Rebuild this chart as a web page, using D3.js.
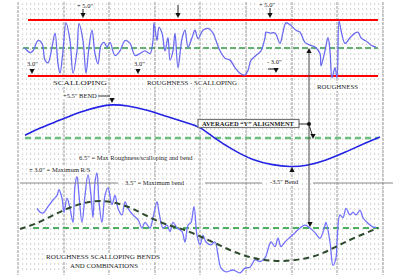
<!DOCTYPE html>
<html>
<head>
<meta charset="utf-8">
<script src="https://d3js.org/d3.v7.min.js"></script>
<style>
body{margin:0;background:#fff;}
svg{display:block;}
.lbl{font-family:"Liberation Serif","Times New Roman",serif;fill:#1a1a1a;}
</style>
</head>
<body>
<script>
(function (){

    //rail profile, top panel: roughness / scalloping (station in ft, offset in inches)
    var topStations = [5,10,13,18,22,25,28,32,35,38,40,43,46,50,53,57,59,63,66,69,72,75,78,81,84,87,90,95,100,105,110,115,120,125,130,133,134,137,139,142,145,148,150,153,155,158,162,165,168,172,175,178,183,188,193,196,200,205,210,215,220,225,228,231,236,241,245,246,250,255,260,263,266,271,276,280,285,290,295,300,301,305,308,310,312,315,317,319,321,325,330,335,338,341,345,348,351,356];
    var topValues = [0.0,-0.5,-0.3,0.8,0.5,-1.3,-1.6,0.1,1.6,-1.7,-2.7,-0.3,2.7,0.8,-2.7,-0.3,2.6,0.8,-2.7,0.1,1.9,-0.6,-1.7,0.3,0.6,0.1,0.6,-0.8,-0.3,0.8,0.5,-0.8,-0.6,-0.3,-0.6,0.8,2.7,0.8,2.2,1.6,-0.3,1.1,-1.3,-0.3,1.6,-2.1,1.0,1.9,0.1,1.1,1.9,1.0,1.9,2.1,1.6,0.8,-0.3,-1.1,-1.3,-2.1,-2.7,-2.9,-2.4,-1.3,-0.8,-0.3,1.1,1.7,1.6,1.6,0.5,1.7,2.7,2.4,1.9,1.7,0.6,0.3,0.1,-0.6,-1.9,-0.3,1.1,-0.3,-3.2,-2.1,-3.2,2.9,1.9,0.5,1.1,1.6,1.7,1.1,0.8,0.6,0.3,0.1];

    //middle panel: averaged "Y" alignment
    var alignStations = [5,20,40,60,80,92,107,127,147,167,180,193,213,233,253,270,286,306,326,346,360];
    var alignValues = [0.3,1.1,1.9,2.8,3.4,3.6,3.5,3.0,2.3,1.6,1.2,0.1,-1.3,-2.4,-2.9,-3.1,-3.0,-2.4,-1.5,-0.5,0.1];

    //bottom panel: combined profile
    var comboStations = [17,20,23,28,33,37,39,42,44,47,50,53,55,57,59,62,65,68,71,73,75,77,79,82,85,88,92,95,98,102,105,108,113,118,122,125,130,133,137,139,143,147,150,153,157,162,165,168,171,174,177,180,183,186,191,195,198,201,206,213,220,225,230,235,240,245,251,255,258,261,265,270,275,280,285,290,295,300,305,306,310,313,316,317,320,323,326,330,333,336,340,343,348,353,356];
    var comboValues = [2.1,1.7,1.6,2.3,3.0,3.5,4.1,3.2,1.7,3.2,2.1,0.6,4.6,5.5,3.5,0.6,3.5,5.7,3.5,1.1,4.9,5.9,2.8,0.6,3.5,4.3,2.5,3.5,2.1,1.4,2.8,2.1,1.4,0.9,0.0,0.6,0.0,1.1,2.8,1.7,0.0,0.3,-0.4,0.6,0.0,-0.4,-1.5,0.3,0.6,2.3,-0.8,-1.8,-0.8,-1.5,-1.8,-1.5,-2.9,-4.3,-4.7,-4.5,-4.8,-4.3,-4.2,-3.4,-3.6,-3.2,-1.5,-2.0,-1.1,-2.0,-1.5,-1.0,-0.5,0.0,0.3,0.0,-0.5,-1.1,0.3,0.6,-1.5,-4.0,-3.2,-1.5,1.4,1.1,2.1,1.4,1.7,1.4,1.9,1.1,0.5,0.1,0.1];

    //bottom panel: bend trend
    var trendStations = [0,13,30,47,63,80,97,113,130,147,163,180,195,210,225,240,260,280,300,316,333,358];
    var trendValues = [-0.1,0.3,1.2,2.1,2.7,3.0,2.7,2.1,1.1,0.3,-0.1,-0.9,-1.6,-2.4,-3.0,-3.4,-3.6,-3.4,-2.9,-2.0,-1.1,0.0];

    //grid stations
    var gridStations = [-2,44,89,135,180,226,272,317,363];

    window.onload = setChart();

    function setChart(){
        var width = 393,
            height = 275;

        var svg = d3.select("body")
            .append("svg")
            .attr("width", width)
            .attr("height", height);

        var x = d3.scaleLinear().domain([0, 360]).range([20, 380]);

        //one scale per panel, same inches per pixel
        var yTop = d3.scaleLinear().domain([-3, 3]).range([76, 20]),
            yMid = d3.scaleLinear().domain([-3, 3]).range([166, 110]),
            yBot = d3.scaleLinear().domain([-3, 3]).range([256, 200]);

        drawGrid(svg, x);

        //top panel limits
        [3, -3].forEach(function(v){
            svg.append("line")
                .attr("x1", 28).attr("x2", 378)
                .attr("y1", yTop(v)).attr("y2", yTop(v))
                .attr("stroke", "#ff0000")
                .attr("stroke-width", 2);
        });
        centerLine(svg, yTop(0), 23, 378, "#2f9a47", 1.4, "6,3");
        profile(svg, x, yTop, topStations, topValues, "#6b6bf2", 1.3);

        //middle panel
        centerLine(svg, yMid(0), 25, 378, "#6cbf7c", 2.4, "6,4");
        profile(svg, x, yMid, alignStations, alignValues, "#2323e6", 1.6, d3.curveBasis);

        //bottom panel
        centerLine(svg, yBot(0), 33, 380, "#4caf62", 2.2, "6,4");
        profile(svg, x, yBot, comboStations, comboValues, "#7272ff", 1.3);
        svg.append("path")
            .datum(d3.zip(trendStations, trendValues))
            .attr("fill", "none")
            .attr("stroke", "#2d4a2d")
            .attr("stroke-width", 2)
            .attr("stroke-dasharray", "6,4")
            .attr("d", d3.line()
                .curve(d3.curveBasis)
                .x(function(d){ return x(d[0]); })
                .y(function(d){ return yBot(d[1]); }));

        annotate(svg);
    }

    function drawGrid(svg, x){
        //rows of dots
        svg.selectAll(".dots")
            .data(d3.range(4, 274, 5))
            .enter()
            .append("line")
            .attr("class", "dots")
            .attr("x1", 22).attr("x2", 386)
            .attr("y1", function(d){ return d; })
            .attr("y2", function(d){ return d; })
            .attr("stroke", "#b4b4b4")
            .attr("stroke-width", 1)
            .attr("stroke-dasharray", "1.2,2.8");

        //vertical division lines
        svg.selectAll(".vline")
            .data(gridStations)
            .enter()
            .append("line")
            .attr("class", "vline")
            .attr("x1", function(d){ return x(d); })
            .attr("x2", function(d){ return x(d); })
            .attr("y1", 2).attr("y2", 275)
            .attr("stroke", "#999")
            .attr("stroke-width", 1)
            .attr("stroke-dasharray", "3,1");
    }

    function centerLine(svg, y, x1, x2, color, w, dash){
        svg.append("line")
            .attr("x1", x1).attr("x2", x2)
            .attr("y1", y).attr("y2", y)
            .attr("stroke", color)
            .attr("stroke-width", w)
            .attr("stroke-dasharray", dash);
    }

    function profile(svg, x, y, st, vals, color, w, curve){
        svg.append("path")
            .datum(d3.zip(st, vals))
            .attr("fill", "none")
            .attr("stroke", color)
            .attr("stroke-width", w)
            .attr("stroke-linejoin", "round")
            .attr("d", d3.line()
                .curve(curve || d3.curveCatmullRom)
                .x(function(d){ return x(d[0]); })
                .y(function(d){ return y(d[1]); }));
    }

    //text with white backing; w fixes the width of caps labels
    function label(svg, t, x, y, size, w, bold){
        var bg = svg.append("rect").attr("fill", "#fff");
        var txt = svg.append("text")
            .attr("class", "lbl")
            .attr("x", x).attr("y", y)
            .attr("font-size", size)
            .attr("font-weight", bold ? "bold" : "normal")
            .text(t);
        if (w) {
            txt.attr("textLength", w).attr("lengthAdjust", "spacingAndGlyphs");
        }
        var len = w || txt.node().getComputedTextLength();
        bg.attr("x", x - 1).attr("y", y - size * 0.8)
            .attr("width", len + 2).attr("height", size * 1.05);
    }

    //small black triangle, tip at (x,y)
    function arrow(svg, x, y, up){
        var s = up ? -1 : 1;
        svg.append("path")
            .attr("d", "M" + x + "," + y + "L" + (x - 2.6) + "," + (y - 5 * s) + "L" + (x + 2.6) + "," + (y - 5 * s) + "Z")
            .attr("fill", "#111");
    }

    function annotate(svg){
        //top panel
        label(svg, '+ 5.0"', 77, 7.5, 6.5);
        svg.append("line").attr("x1", 83).attr("x2", 83).attr("y1", 9).attr("y2", 13).attr("stroke", "#222");
        arrow(svg, 83, 18);
        svg.append("line").attr("x1", 178).attr("x2", 178).attr("y1", 5).attr("y2", 13).attr("stroke", "#222");
        arrow(svg, 178, 18);
        label(svg, '+ 5.0"', 259, 6.5, 6.5);
        svg.append("line").attr("x1", 270).attr("x2", 270).attr("y1", 8).attr("y2", 13).attr("stroke", "#222");
        arrow(svg, 270, 18);

        label(svg, '3.0"', 27, 65.5, 6.5);
        arrow(svg, 32, 74);
        label(svg, '3.0"', 134, 65.5, 6.5);
        arrow(svg, 138, 74);
        label(svg, '- 3.0"', 267, 64, 6.5);
        svg.append("line").attr("x1", 268).attr("x2", 276).attr("y1", 69).attr("y2", 69).attr("stroke", "#222");
        arrow(svg, 276, 73);

        label(svg, "SCALLOPING", 53, 85, 7, 54);
        label(svg, "ROUGHNESS - SCALLOPING", 147, 85, 7, 90);
        label(svg, "ROUGHNESS", 317, 89, 7, 41);

        //long marker line
        svg.append("line")
            .attr("x1", 309).attr("x2", 309)
            .attr("y1", 50).attr("y2", 224)
            .attr("stroke", "#444")
            .attr("stroke-width", 1);
        arrow(svg, 309, 48, true);
        arrow(svg, 310, 227);

        //middle panel
        label(svg, '+5.5" BEND', 63, 98, 6.5);
        svg.append("line").attr("x1", 98).attr("x2", 110).attr("y1", 96).attr("y2", 96).attr("stroke", "#333");
        arrow(svg, 112, 103);

        svg.append("rect")
            .attr("x", 198).attr("y", 119.5)
            .attr("width", 101).attr("height", 8)
            .attr("fill", "#fff")
            .attr("stroke", "#777")
            .attr("stroke-width", 1.2);
        svg.append("text")
            .attr("class", "lbl")
            .attr("x", 202).attr("y", 126)
            .attr("font-size", 6.5)
            .attr("font-weight", "bold")
            .attr("textLength", 92)
            .attr("lengthAdjust", "spacingAndGlyphs")
            .text("AVERAGED \u201CY\u201D ALIGNMENT");
        svg.append("line").attr("x1", 299).attr("x2", 308).attr("y1", 124).attr("y2", 124).attr("stroke", "#333");
        svg.append("circle").attr("cx", 309).attr("cy", 124).attr("r", 2).attr("fill", "#111");
        svg.append("line").attr("x1", 309).attr("x2", 312).attr("y1", 125).attr("y2", 134).attr("stroke", "#333");
        arrow(svg, 313, 139);

        label(svg, '6.5" = Max Roughness/scalloping and bend', 79, 160, 6.5);
        label(svg, '\u00B1 3.0" = Maximum R/S', 29, 171.5, 6.5);
        label(svg, '3.5" =  Maximum bend', 125, 185, 6.5);
        label(svg, '-3.5" Bend', 270, 184, 6.5);
        arrow(svg, 292, 167, true);

        [[20, 118], [205, 262], [313, 393]].forEach(function(seg){
            svg.append("line")
                .attr("x1", seg[0]).attr("x2", seg[1])
                .attr("y1", 183).attr("y2", 183)
                .attr("stroke", "#888")
                .attr("stroke-width", 1.2);
        });

        //bottom panel
        label(svg, "ROUGHNESS    SCALLOPING BENDS", 46, 259, 7, 114);
        label(svg, "AND COMBINATIONS", 70, 268, 7, 68);
    }

})();
</script>
</body>
</html>
